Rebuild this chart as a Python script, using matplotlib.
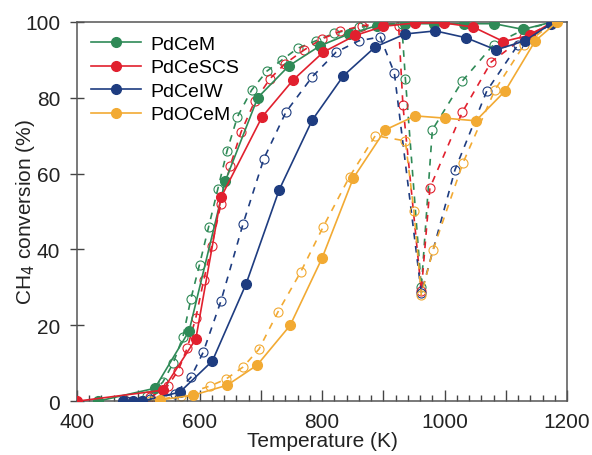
import numpy as np
import matplotlib
matplotlib.use("Agg")
import matplotlib.pyplot as plt
from matplotlib.ticker import MultipleLocator, FuncFormatter
from matplotlib.lines import Line2D

plt.rcParams["font.family"] = ["Liberation Sans", "DejaVu Sans"]

# ---- data: heating (filled) and cooling (open) ----
names = ["PdCeM", "PdCeSCS", "PdCeIW", "PdOCeM"]
colors = ["#2f8a57", "#e1202e", "#1e3c80", "#f2aa33"]

heat_T = {
    "PdCeM": [434, 527, 583, 642, 695, 746, 797, 844, 890, 936, 983, 1032, 1081, 1128, 1177],
    "PdCeSCS": [400, 540, 594, 635, 702, 753, 802, 854, 900, 952, 999, 1047, 1096, 1140, 1177],
    "PdCeIW": [475, 492, 506, 568, 621, 676, 730, 784, 835, 887, 936, 985, 1035, 1084, 1131, 1174],
    "PdOCeM": [535, 590, 645, 694, 748, 800, 851, 903, 952, 1001, 1051, 1099, 1148, 1184],
}
heat_v = {
    "PdCeM": [0, 3.4, 18.5, 58, 80, 88.4, 93.7, 96.8, 99, 99.5, 99.5, 99.5, 99.5, 98, 100],
    "PdCeSCS": [0, 2.9, 16.4, 53.7, 74.9, 84.7, 92, 96.4, 98.8, 99.7, 99.7, 98.6, 94.8, 96.5, 100],
    "PdCeIW": [0, 0, 0, 2.4, 10.6, 30.9, 55.7, 74.1, 85.8, 93.4, 96.8, 97.6, 95.8, 92.6, 95, 99.5],
    "PdOCeM": [0.3, 1.6, 4.2, 9.5, 20, 37.7, 58.8, 71.5, 75.2, 74.6, 73.9, 81.8, 95, 100],
}

cool_T = {
    "PdCeM": [480, 514, 540, 557, 573, 586, 600, 615, 630, 645, 662, 685, 710, 735, 760,
              790, 820, 860, 900, 930, 936, 962, 980, 1029, 1080, 1130, 1180],
    "PdCeSCS": [480, 520, 548, 565, 580, 594, 607, 620, 635, 650, 668, 690, 715, 740, 770,
                800, 830, 865, 900, 925, 932, 962, 976, 1029, 1076, 1130, 1180],
    "PdCeIW": [480, 520, 560, 586, 606, 635, 671, 705, 741, 784, 823, 860, 895, 918, 962,
               1017, 1069, 1120, 1180],
    "PdOCeM": [520, 570, 617, 643, 671, 697, 728, 765, 802, 845, 887, 936, 950, 962, 981,
               1030, 1082, 1130, 1180],
}
cool_v = {
    "PdCeM": [0, 1.3, 5, 10, 17, 27, 36, 46, 56, 66, 75, 82, 87, 90, 93,
              95, 97, 98.5, 99.5, 99.5, 85, 30, 71.5, 84.4, 94, 98, 100],
    "PdCeSCS": [0, 1, 4, 8, 14, 22, 32, 41, 52, 62, 71, 79, 85, 89, 92.5,
                95.5, 97.5, 99, 99.5, 99, 78, 29, 56.2, 76.2, 89.4, 96, 100],
    "PdCeIW": [0, 0.5, 2, 6.3, 12.9, 26.4, 46.7, 63.9, 76.2, 85.5, 92, 95, 96, 86.5, 28.5,
               61, 81.8, 94, 100],
    "PdOCeM": [0, 1.5, 4, 5.8, 9, 13.7, 23.5, 34, 46, 59.2, 70, 68.6, 50, 28, 39.8,
               62.8, 82, 94, 100],
}

fig = plt.figure(figsize=(5.92, 4.56), dpi=100)
ax = fig.add_axes([0.130, 0.118, 0.828, 0.832])

# cooling: dashed, open symbols
for name, c in zip(names, colors):
    ax.plot(cool_T[name], cool_v[name], ls=(0, (4, 4)), lw=1.2, color=c,
            marker="o", ms=6.5, mfc="none", mec=c, mew=0.8, zorder=2)
# heating: solid, filled symbols
for name, c in zip(names, colors):
    ax.plot(heat_T[name], heat_v[name], ls="-", lw=1.2, color=c,
            marker="o", ms=7, mfc=c, mec=c, zorder=3)

ax.set_xlim(400, 1200)
ax.set_ylim(0, 100)
ax.xaxis.set_major_locator(MultipleLocator(100))
ax.xaxis.set_minor_locator(MultipleLocator(20))
ax.xaxis.set_major_formatter(FuncFormatter(lambda x, p: f"{x:.0f}" if x % 200 == 0 else ""))
ax.yaxis.set_major_locator(MultipleLocator(20))
ax.tick_params(axis="x", which="major", direction="in", length=8, width=1,
               labelsize=15, colors="#444444", labelcolor="#222222", pad=8)
ax.tick_params(axis="x", which="minor", direction="in", length=4, width=1, colors="#444444")
ax.tick_params(axis="y", which="major", direction="inout", length=10, width=1,
               labelsize=15, colors="#444444", labelcolor="#222222", pad=7)
for s in ax.spines.values():
    s.set_color("#555555")
    s.set_linewidth(1.1)

ax.set_xlabel("Temperature (K)", fontsize=15, color="#222222", labelpad=0)
ax.set_ylabel("CH$_4$ conversion (%)", fontsize=15, color="#222222")
ax.yaxis.set_label_coords(-0.082, 0.5)

handles = [Line2D([], [], color=c, lw=1.2, marker="o", ms=7, mfc=c, mec=c) for c in colors]
ax.legend(handles, names, loc="upper left", frameon=False, fontsize=14,
          handlelength=2.6, handletextpad=0.5, labelspacing=0.3,
          borderaxespad=0.3, bbox_to_anchor=(0.0, 1.0))

fig.savefig("out.png", dpi=100)
